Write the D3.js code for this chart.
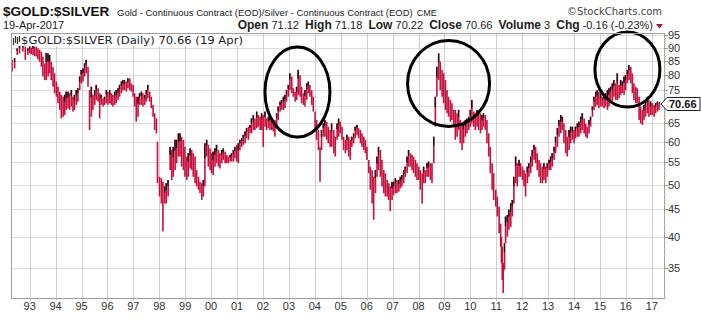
<!DOCTYPE html>
<html><head><meta charset="utf-8">
<script src="https://cdn.jsdelivr.net/npm/d3@7"></script>
<style>
html,body{margin:0;padding:0;background:#fff;}
svg{display:block;}
text{font-family:"Liberation Sans",Arial,sans-serif;}
</style></head>
<body>
<svg id="c" width="701" height="321"></svg>
<script>
// ---- data (decimal year, daily-range high, daily-range low) ----
const dates = [
1992.32,1992.42,1992.52,1992.61,1992.74,1992.83,1992.93,1993.00,1993.06,1993.13,1993.19,1993.26,1993.32,1993.38,1993.45,1993.51,1993.58,1993.64,1993.71,1993.77,1993.83,1993.90,1993.96,
1994.03,1994.09,1994.16,1994.22,1994.29,1994.35,1994.41,1994.48,1994.54,1994.61,1994.67,1994.73,1994.80,1994.86,1994.93,1994.99,
1995.06,1995.12,1995.18,1995.25,1995.31,1995.38,1995.44,1995.51,1995.57,1995.64,1995.70,1995.76,1995.83,1995.89,1995.96,
1996.02,1996.09,1996.15,1996.21,1996.28,1996.34,1996.41,1996.47,1996.54,1996.60,1996.66,1996.73,1996.79,1996.86,1996.92,1996.99,
1997.05,1997.11,1997.18,1997.24,1997.31,1997.37,1997.44,1997.50,1997.56,1997.63,1997.69,1997.76,1997.82,1997.89,1997.93,
1998.01,1998.08,1998.14,1998.21,1998.27,1998.34,1998.42,1998.48,1998.54,1998.61,1998.67,1998.74,1998.80,1998.86,1998.93,1998.99,
1999.06,1999.12,1999.19,1999.25,1999.31,1999.38,1999.44,1999.51,1999.57,1999.64,1999.70,1999.76,1999.83,1999.89,1999.96,
2000.02,2000.08,2000.15,2000.21,2000.28,2000.34,2000.41,2000.47,2000.54,2000.60,2000.66,2000.73,2000.79,2000.86,2000.92,2000.99,
2001.05,2001.11,2001.18,2001.24,2001.31,2001.37,2001.44,2001.50,2001.56,2001.63,2001.69,2001.76,2001.82,2001.89,2001.95,
2002.01,2002.08,2002.14,2002.21,2002.27,2002.34,2002.40,2002.46,2002.53,2002.59,2002.66,2002.72,2002.79,2002.85,2002.91,2002.98,
2003.04,2003.11,2003.17,2003.24,2003.30,2003.36,2003.43,2003.49,2003.56,2003.62,2003.69,2003.75,2003.81,2003.88,2003.94,
2004.01,2004.07,2004.14,2004.20,2004.26,2004.33,2004.39,2004.46,2004.52,2004.59,2004.65,2004.73,2004.79,2004.86,2004.92,2004.98,
2005.05,2005.11,2005.18,2005.24,2005.31,2005.37,2005.43,2005.50,2005.56,2005.63,2005.69,2005.76,2005.82,2005.89,2005.95,
2006.01,2006.08,2006.14,2006.21,2006.27,2006.34,2006.40,2006.46,2006.53,2006.59,2006.66,2006.72,2006.79,2006.85,2006.91,2006.98,
2007.04,2007.11,2007.17,2007.24,2007.30,2007.36,2007.43,2007.49,2007.56,2007.62,2007.69,2007.75,2007.81,2007.88,2007.94,
2008.01,2008.07,2008.14,2008.20,2008.26,2008.33,2008.39,2008.46,2008.52,2008.59,2008.65,2008.71,2008.78,2008.84,2008.91,2008.97,
2009.04,2009.10,2009.16,2009.23,2009.29,2009.36,2009.42,2009.49,2009.55,2009.61,2009.68,2009.74,2009.81,2009.87,2009.94,
2010.00,2010.06,2010.13,2010.19,2010.26,2010.32,2010.39,2010.45,2010.51,2010.58,2010.64,2010.71,2010.77,2010.84,2010.90,2010.98,
2011.04,2011.11,2011.17,2011.20,2011.23,2011.27,2011.32,2011.36,2011.43,2011.49,2011.56,2011.62,2011.68,2011.75,2011.81,2011.88,2011.94,
2012.01,2012.07,2012.13,2012.20,2012.26,2012.33,2012.39,2012.46,2012.52,2012.58,2012.65,2012.71,2012.78,2012.84,2012.91,2012.97,
2013.04,2013.10,2013.16,2013.23,2013.29,2013.36,2013.42,2013.49,2013.55,2013.61,2013.68,2013.74,2013.81,2013.87,2013.94,
2014.00,2014.06,2014.13,2014.19,2014.26,2014.32,2014.39,2014.45,2014.51,2014.58,2014.64,2014.71,2014.77,2014.84,2014.90,2014.96,
2015.03,2015.09,2015.16,2015.22,2015.29,2015.35,2015.41,2015.48,2015.54,2015.61,2015.67,2015.74,2015.80,2015.86,2015.93,2015.99,
2016.06,2016.12,2016.19,2016.25,2016.31,2016.38,2016.44,2016.51,2016.57,2016.64,2016.70,2016.76,2016.83,2016.89,2016.96,
2017.02,2017.09,2017.15,2017.22,2017.28,2017.30
];
const highs = [
85.4,86.0,89.7,91.0,91.0,90.4,89.7,90.4,90.0,91.0,90.4,90.4,89.7,89.1,88.5,86.6,84.1,88.0,87.8,87.2,84.7,82.9,80.6,
77.8,76.1,74.5,73.5,72.9,73.5,74.5,74.5,74.0,75.0,72.9,73.5,75.0,75.6,79.5,81.8,
82.3,84.1,85.4,82.9,75.0,76.1,73.5,75.0,76.7,75.6,74.0,73.5,72.4,72.9,75.0,
74.5,75.0,74.0,73.5,74.5,75.0,75.6,76.7,77.8,78.3,78.3,77.8,78.9,78.9,77.2,76.7,
74.0,72.9,72.9,74.0,74.5,74.0,73.5,75.0,76.7,74.5,72.9,70.4,67.9,66.4,60.1,
51.7,51.4,50.6,49.6,50.3,51.0,58.8,58.0,58.8,60.6,60.6,62.3,62.3,61.4,60.6,58.8,
56.4,57.2,58.4,58.0,57.2,56.4,53.2,51.7,50.6,50.3,51.0,59.7,60.6,59.3,58.4,
57.2,57.6,58.4,59.3,58.0,57.2,58.0,58.4,57.6,56.8,56.4,56.8,57.2,58.0,58.8,59.3,
59.7,60.6,61.0,61.9,62.8,63.7,64.1,64.6,66.4,67.4,66.4,68.4,67.4,66.9,67.9,
67.4,68.4,66.4,66.9,67.4,66.4,65.0,66.0,67.9,69.9,71.4,71.9,72.9,73.5,75.0,76.7,
80.6,79.5,75.6,74.5,76.1,81.8,80.0,76.1,74.0,75.0,77.2,77.8,76.7,75.0,72.9,
68.4,66.0,63.2,58.8,63.2,65.0,66.0,65.5,64.1,63.2,65.0,63.2,61.4,65.0,66.4,65.5,
64.1,61.4,60.6,61.9,61.4,60.6,61.4,62.3,64.1,64.6,63.7,63.2,62.3,61.4,60.6,
58.8,55.6,54.0,53.2,51.7,53.2,56.4,58.8,58.0,55.6,53.2,52.5,51.0,50.3,49.6,50.6,
50.6,51.4,51.0,51.0,51.7,52.1,53.2,54.0,56.4,58.0,57.2,56.8,56.4,55.6,54.8,
54.0,53.2,52.5,54.0,53.2,54.8,55.2,54.8,54.8,61.4,72.9,82.9,87.8,84.7,81.8,80.6,
78.3,75.0,72.9,71.9,70.9,68.9,68.9,67.9,68.9,66.0,65.0,65.5,66.0,66.4,66.9,
68.9,71.9,68.4,67.9,68.9,68.4,67.9,67.4,67.9,67.4,66.0,62.3,58.8,54.8,52.5,48.9,
47.5,45.5,42.3,40.0,38.3,35.7,38.9,43.6,43.9,44.9,46.1,46.8,51.7,56.4,54.8,55.6,54.8,
54.0,53.2,52.5,54.0,54.8,56.4,58.0,59.3,58.8,57.2,55.6,54.8,54.0,54.8,54.0,54.8,
55.6,56.4,57.2,58.8,61.4,63.7,66.0,67.4,66.9,65.0,63.2,61.4,63.2,64.1,64.1,
63.2,64.1,65.0,65.5,66.9,67.9,66.4,65.0,64.1,66.0,66.9,69.9,72.9,74.5,75.0,74.5,
74.0,72.9,73.5,74.0,75.0,75.6,76.1,77.2,78.3,77.2,80.6,76.7,78.3,77.8,79.5,80.0,
81.8,83.5,82.9,80.6,77.2,76.1,75.6,72.9,69.9,68.9,70.4,71.9,72.9,71.9,71.4,
70.9,70.4,70.9,71.4,70.4,71.18
];
const lows = [
81.2,82.3,87.2,87.8,88.5,85.4,87.2,87.8,87.5,87.2,86.8,86.6,85.6,84.7,82.9,79.5,78.3,78.3,79.5,80.6,78.3,76.1,74.0,
72.9,70.9,68.9,66.4,66.9,67.4,68.9,69.4,68.9,69.9,68.4,68.9,70.4,71.4,75.0,77.2,
77.8,79.5,80.6,76.1,63.2,66.9,68.9,70.4,71.9,71.4,66.4,70.4,69.9,70.4,70.9,
70.4,70.9,70.4,69.9,70.4,70.9,71.9,72.9,74.0,75.0,75.0,74.5,75.6,75.0,74.5,72.9,
69.9,65.5,66.9,70.4,70.4,69.9,70.4,71.4,72.4,71.4,69.4,66.9,63.2,62.3,50.3,
47.5,46.1,40.9,46.1,46.1,47.5,53.2,51.0,51.7,53.2,54.8,56.4,56.4,54.0,53.2,51.7,
51.0,51.7,53.6,53.2,51.7,50.3,49.6,48.9,48.2,46.8,47.5,49.6,56.4,54.0,53.2,
52.5,52.1,54.0,54.8,54.0,53.6,54.8,55.6,54.8,54.8,54.8,55.2,55.2,55.2,56.0,55.2,
54.8,58.0,58.8,59.3,59.7,61.0,60.6,62.3,62.3,63.2,63.2,63.7,64.1,63.2,63.2,
58.8,64.1,63.2,63.7,63.2,63.2,62.8,61.4,64.1,66.0,68.4,68.9,68.9,69.4,71.4,72.9,
75.0,74.0,72.9,71.4,71.9,73.5,72.9,70.9,70.4,69.9,71.9,74.0,72.9,70.4,68.4,
63.2,60.6,58.0,50.6,58.0,61.4,61.4,60.6,59.7,58.8,58.8,57.2,56.4,60.6,61.4,62.3,
60.6,58.0,57.2,58.0,56.4,55.6,58.8,59.7,61.0,61.9,61.0,59.7,58.8,58.0,57.2,
55.6,52.5,48.9,46.1,43.0,48.2,51.7,53.2,51.7,49.6,48.2,47.5,47.5,46.8,44.6,46.8,
47.8,48.2,48.2,48.5,49.2,49.6,50.3,51.7,52.5,54.0,54.0,53.2,52.5,51.7,51.0,
51.0,48.9,46.1,50.3,50.3,51.7,51.7,51.0,50.3,54.8,64.1,72.9,78.3,75.0,72.9,70.9,
68.9,67.9,66.9,65.5,66.0,64.1,60.6,61.4,63.2,59.7,58.0,59.7,61.4,62.3,63.2,
64.1,65.0,64.1,63.2,64.1,63.2,62.3,63.2,64.1,63.2,59.7,56.4,52.5,48.9,46.8,45.5,
43.6,40.6,38.3,35.7,33.2,31.4,34.7,38.9,40.0,41.2,41.7,43.6,46.1,50.3,49.6,51.7,51.7,
51.0,49.6,47.5,50.3,51.7,52.5,54.0,55.6,54.8,53.2,51.7,50.3,50.3,51.0,50.3,51.7,
53.2,53.2,54.0,55.6,57.2,58.8,61.4,62.3,63.2,59.7,57.2,56.4,58.0,59.7,60.6,
59.7,61.0,61.4,61.4,62.3,63.2,62.3,61.4,61.0,62.3,64.1,66.9,68.9,69.9,70.4,69.4,
69.9,69.9,69.4,69.9,68.9,69.9,71.9,71.4,72.9,71.9,71.9,72.4,73.5,74.0,73.5,75.0,
77.2,78.3,77.2,74.0,71.9,70.9,70.9,66.0,65.0,64.6,66.0,66.9,67.9,66.9,67.4,
67.4,66.9,67.9,68.4,68.9,70.22
];
const yTicks = [35,40,45,50,55,60,65,70,75,80,85,90,95];
const years = d3.range(1993, 2018);
const lastClose = 70.66;
// annotation ellipses: [centre year, centre value, rx px, ry px]
const rings = [[2003.33, 74.4, 32.5, 45], [2009.16, 77.2, 41, 43], [2016.06, 81.9, 32.5, 37.5]];

// ---- layout ----
const X0 = 11, X1 = 664, Y0 = 33, Y1 = 298;
const svg = d3.select("#c");
const x = d3.scaleLinear().domain([1992.279, 2017.471]).range([X0, X1]);
const y = d3.scaleLog().domain([30.73, 95.84]).range([Y1, Y0]);

// grid
const g = svg.append("g");
g.selectAll(".hg").data(yTicks).join("line")
  .attr("x1", X0).attr("x2", X1).attr("y1", d => Math.round(y(d)) + 0.5).attr("y2", d => Math.round(y(d)) + 0.5)
  .attr("stroke", "#dcdcdc").attr("stroke-width", 1);
g.selectAll(".vg").data(years).join("line")
  .attr("x1", d => Math.round(x(d)) + 0.5).attr("x2", d => Math.round(x(d)) + 0.5).attr("y1", Y0).attr("y2", Y1 + 3)
  .attr("stroke", "#d0d0d0").attr("stroke-width", 1);

// bars
const w = 1.6;
const pts = dates.map((d, i) => ({d, hi: highs[i], lo: lows[i], mid: (highs[i] + lows[i]) / 2}));
pts.forEach((p, i) => { p.up = i > 0 && p.mid >= pts[i - 1].mid; });
const bars = svg.append("g");
bars.selectAll("rect.r").data(pts).join("rect")
  .attr("x", p => x(p.d) - w / 2).attr("width", w)
  .attr("y", p => y(p.hi)).attr("height", p => Math.max(1, y(p.lo) - y(p.hi)))
  .attr("fill", "#c8103c");
bars.selectAll("rect.b").data(pts.filter(p => p.up)).join("rect")
  .attr("x", p => x(p.d) - w / 2).attr("width", w * 0.8)
  .attr("y", p => y(p.hi)).attr("height", p => Math.max(1, (y(p.lo) - y(p.hi)) * 0.35))
  .attr("fill", "#111");

// rings
svg.append("g").selectAll("ellipse").data(rings).join("ellipse")
  .attr("cx", r => x(r[0])).attr("cy", r => y(r[1])).attr("rx", r => r[2]).attr("ry", r => r[3])
  .attr("fill", "none").attr("stroke", "#000").attr("stroke-width", 3);

// frame
svg.append("rect").attr("x", X0 + 0.5).attr("y", Y0 + 0.5).attr("width", X1 - X0).attr("height", Y1 - Y0)
  .attr("fill", "none").attr("stroke", "#a0a0a0");

// y axis labels and ticks
const ya = svg.append("g");
d3.range(31, 96).forEach(v => {
  ya.append("line").attr("x1", X1).attr("x2", X1 + 2).attr("y1", Math.round(y(v)) + 0.5).attr("y2", Math.round(y(v)) + 0.5)
    .attr("stroke", "#c8c8c8");
});
ya.selectAll("line.mj").data(yTicks).join("line")
  .attr("x1", X1).attr("x2", X1 + 4).attr("y1", d => Math.round(y(d)) + 0.5).attr("y2", d => Math.round(y(d)) + 0.5)
  .attr("stroke", "#999");
// the label hidden under the last-price box in the reference is not drawn
ya.selectAll("text").data(yTicks.filter(d => Math.abs(y(d) - y(lastClose)) > 8)).join("text")
  .attr("x", X1 + 4).attr("y", d => y(d) + 4).attr("font-size", 11).attr("fill", "#333").text(d => d);

// x labels
svg.append("g").selectAll("text").data(years).join("text")
  .attr("x", d => x(d)).attr("y", 310).attr("text-anchor", "middle").attr("font-size", 11).attr("fill", "#333")
  .text(d => String(d % 100).padStart(2, "0"));

// last price marker
const py = y(lastClose);
svg.append("path")
  .attr("d", `M${X1 - 3},${py} L${X1 + 3},${py - 6.5} H${X1 + 36} V${py + 6.5} H${X1 + 3} Z`)
  .attr("fill", "#fff").attr("stroke", "#222").attr("stroke-width", 1);
svg.append("text").attr("x", X1 + 5).attr("y", py + 4).attr("font-size", 11).attr("font-weight", "bold")
  .attr("fill", "#111").text(lastClose.toFixed(2));

// legend inside plot
const lg = svg.append("g");
lg.append("rect").attr("x", 12).attr("y", 34).attr("width", 232).attr("height", 12).attr("fill", "#fff");
lg.append("path").attr("d", "M13.5,38 V45 M15.5,36 V43 M17.5,37 V44 M19.5,36 V42").attr("stroke", "#333").attr("stroke-width", 1.2);
lg.append("text").attr("x", 21).attr("y", 44).attr("font-size", 11).attr("fill", "#222")
  .style("font-family", "'DejaVu Sans',Verdana,sans-serif").attr("textLength", 222).attr("lengthAdjust", "spacingAndGlyphs")
  .text("$GOLD:$SILVER (Daily) 70.66 (19 Apr)");

// header
svg.append("text").attr("x", 3).attr("y", 16).attr("font-size", 13.5).attr("font-weight", "bold").attr("fill", "#111")
  .text("$GOLD:$SILVER");
const subT = svg.append("text").attr("x", 117).attr("y", 16).attr("font-size", 9.5).attr("fill", "#222")
  .text("Gold - Continuous Contract (EOD)/Silver - Continuous Contract (EOD)");
const subW = subT.node().getComputedTextLength();
svg.append("text").attr("x", 117 + subW + 4).attr("y", 16).attr("font-size", 9).attr("fill", "#222").text("CME");
svg.append("text").attr("x", 662).attr("y", 15).attr("text-anchor", "end").attr("font-size", 10).attr("fill", "#444")
  .style("font-family", "'DejaVu Sans',Verdana,sans-serif").text("\u00A9StockCharts.com");
svg.append("text").attr("x", 3).attr("y", 29).attr("font-size", 11).attr("fill", "#222").text("19-Apr-2017");
const q = svg.append("text").attr("x", 653).attr("y", 29).attr("text-anchor", "end").attr("font-size", 11).attr("fill", "#222");
[["Open", " 71.12  "], ["High", " 71.18  "], ["Low", " 70.22  "], ["Close", " 70.66  "], ["Volume", " 3  "], ["Chg", " -0.16 (-0.23%)"]]
  .forEach(([k, v]) => { q.append("tspan").attr("font-weight", "bold").attr("font-size", 12).text(k); q.append("tspan").text(v); });
q.attr("xml:space", "preserve").style("white-space", "pre");
svg.append("path").attr("d", "M656,24 L663,24 L659.5,28.5 Z").attr("fill", "#b0103a");
</script>
</body></html>
